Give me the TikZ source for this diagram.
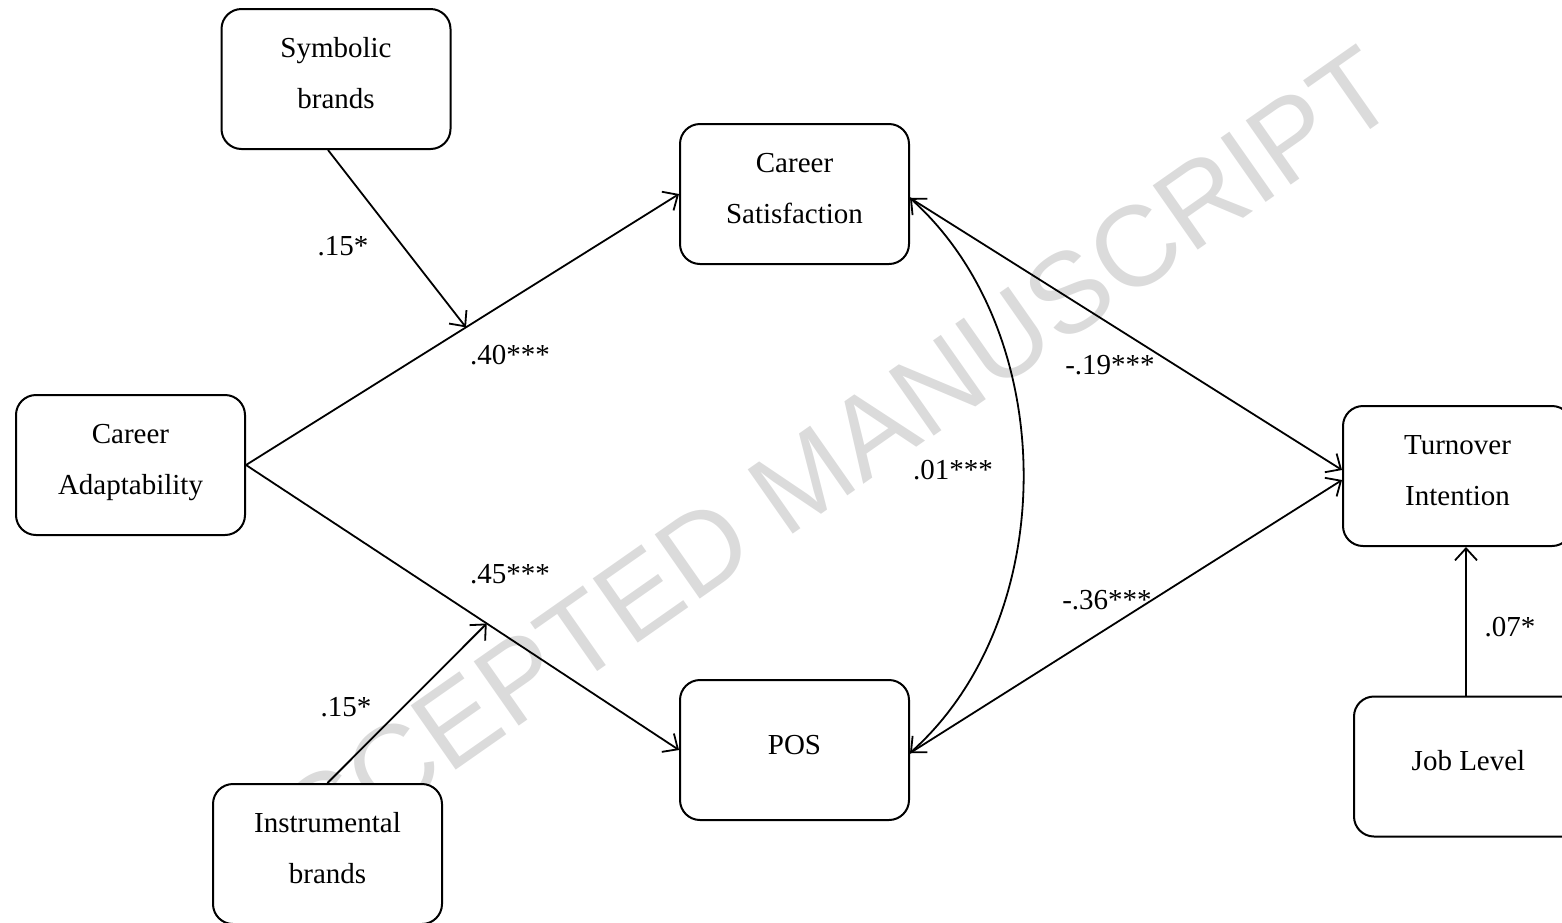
\documentclass[tikz,border=0pt]{standalone}
\usepackage{fontspec}
\setmainfont{Liberation Serif}
\newfontfamily\wmfont{Liberation Sans}
\usetikzlibrary{arrows.meta,calc}
\newcommand{\bxt}[1]{\raisebox{0pt}[\height][\dimexpr\depth+6pt\relax]{\begin{tabular}{@{}c@{}}#1\end{tabular}}}
\begin{document}
\begin{tikzpicture}[x=0.5pt,y=-0.5pt,
  box/.style={draw,fill=white,line width=1pt,rounded corners=10pt,minimum width=114.5pt,minimum height=70pt,inner sep=0pt,align=center},
  lbl/.style={inner sep=0pt},
  conn/.style={line width=0.9pt,-{Straight Barb[length=6pt,width=11pt,line width=0.9pt]}},
  bconn/.style={line width=0.9pt,{Straight Barb[length=6pt,width=11pt,line width=0.9pt]}-{Straight Barb[length=6pt,width=11pt,line width=0.9pt]}},
  every node/.style={font=\fontsize{14.5}{25.5}\selectfont}]
\useasboundingbox (0,0) rectangle (1562,922);
\node[rotate=35,text=black!14,font=\fontsize{57}{57}\selectfont\wmfont] (wm) at (805,478) {ACCEPTED MANUSCRIPT};
\node[box] (Sym) at (336,79) {\bxt{Symbolic\\brands}};
\node[box] (CS) at (794.5,194) {\bxt{Career\\Satisfaction}};
\node[box] (CA) at (130.5,465) {\bxt{Career\\Adaptability}};
\node[box] (POS) at (794.5,750) {\bxt{POS}};
\node[box] (Inst) at (327.5,854) {\bxt{Instrumental\\brands}};
\node[box] (TI) at (1457.5,476) {\bxt{Turnover\\Intention}};
\node[box] (JL) at (1468.5,766.5) {\bxt{Job Level}};
\coordinate (m1) at ($(CA.east)!0.508!(CS.west)$);
\coordinate (m2) at ($(CA.east)!0.556!(POS.west)$);
\draw[conn] (CA.east) -- (CS.west);
\draw[conn] (CA.east) -- (POS.west);
\draw[conn] ($(Sym.south)+(-8,0)$) -- (m1);
\draw[conn] (Inst.north) -- (m2);
\draw[conn] ($(CS.east)+(0,4)$) -- ($(TI.west)+(0,-6)$);
\draw[conn] ($(POS.east)+(0,3)$) -- ($(TI.west)+(0,4)$);
\draw[bconn] ($(CS.east)+(0,4)$) .. controls +(151,136) and +(151,-135) .. ($(POS.east)+(0,3)$);
\draw[conn] ($(JL.north)+(-2.5,0)$) -- ($(TI.south)+(8.5,0)$);
\node[lbl] (l1) at (343,246) {.15*};
\node[lbl] (l2) at (510,355) {.40***};
\node[lbl] (l3) at (510,574) {.45***};
\node[lbl] (l4) at (346,707) {.15*};
\node[lbl] (l5) at (1110,365) {-.19***};
\node[lbl] (l6) at (1107,600) {-.36***};
\node[lbl] (l7) at (953,470) {.01***};
\node[lbl] (l8) at (1510,627) {.07*};
\end{tikzpicture}
\end{document}
